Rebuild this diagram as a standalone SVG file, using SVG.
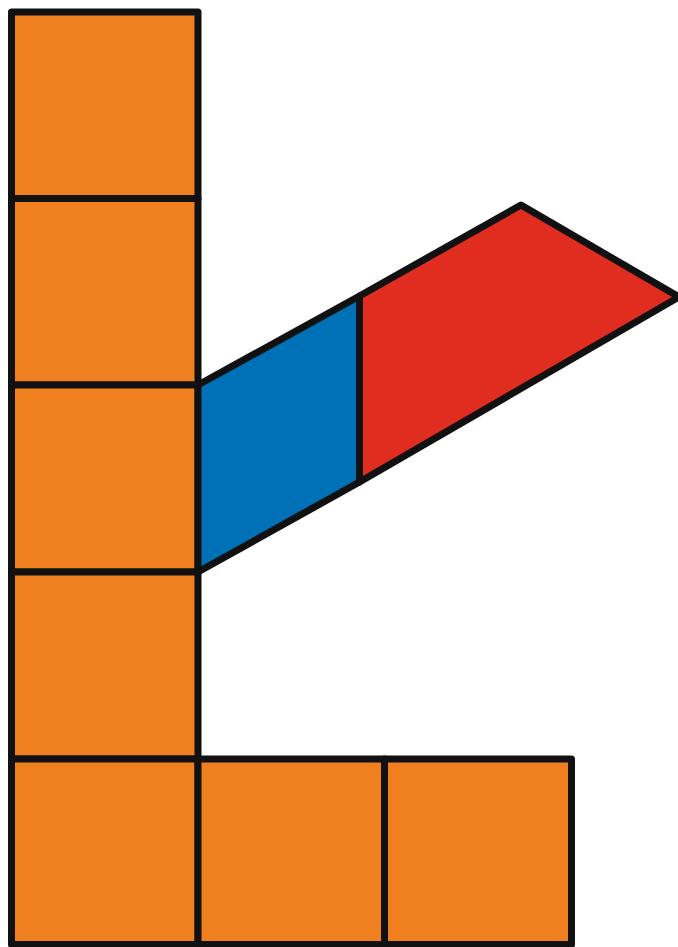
<svg xmlns="http://www.w3.org/2000/svg" width="678" height="947" viewBox="0 0 678 947">
<style>
.o{fill:#EF7F1F}
.b{fill:#0071B6}
.r{fill:#E12C20}
.s{stroke:#111111;stroke-width:7;stroke-linejoin:round;stroke-linecap:round}
</style>
<rect width="678" height="947" fill="#ffffff"/>
<g id="sq1"><rect class="o s" x="11.5" y="12" width="186.5" height="186.5"/></g>
<g id="sq2"><rect class="o s" x="11.5" y="198.5" width="186.5" height="186.5"/></g>
<g id="sq3"><rect class="o s" x="11.5" y="385" width="186.5" height="187"/></g>
<g id="sq4"><rect class="o s" x="11.5" y="572" width="186.5" height="187"/></g>
<g id="sq5"><rect class="o s" x="11.5" y="759" width="186.5" height="185.5"/></g>
<g id="sq6"><rect class="o s" x="198" y="759" width="186.5" height="185.5"/></g>
<g id="sq7"><rect class="o s" x="384.5" y="759" width="187" height="185.5"/></g>
<g id="blue"><polygon class="b s" points="198,385 359.5,296 359.5,482 198,572"/></g>
<g id="red"><polygon class="r s" points="359.5,296 521,205 679,297 359.5,482"/></g>
</svg>
